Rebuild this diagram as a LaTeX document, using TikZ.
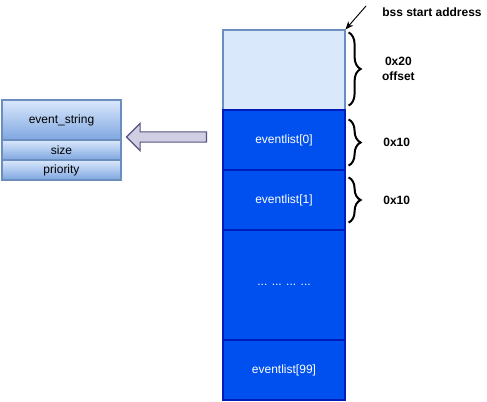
\documentclass[tikz,border=0pt]{standalone}
\usepackage{fontspec}
\setmainfont{Liberation Sans}
\usetikzlibrary{arrows.meta, positioning, calc, decorations.pathreplacing, shapes.arrows}

\definecolor{hdrfill}{HTML}{DAE8FC}
\definecolor{hdrline}{HTML}{6C8EBF}
\definecolor{slotfill}{HTML}{0050EF}
\definecolor{slotline}{HTML}{001DBC}
\definecolor{gradlow}{HTML}{7EA6E0}
\definecolor{arrfill}{HTML}{D0CEE2}
\definecolor{arrline}{HTML}{56517E}

\begin{document}
\begin{tikzpicture}[
    x=0.75pt, y=-0.75pt,
    font=\fontsize{9}{11}\selectfont,
    hdrbox/.style={
        draw=hdrline,
        fill=hdrfill,
        line width=0.9pt,
        inner sep=0pt,
        minimum width=91.5pt,
        minimum height=60pt
    },
    slot/.style={
        draw=slotline,
        fill=slotfill,
        line width=0.9pt,
        text=white,
        inner sep=0pt,
        minimum width=91.5pt,
        minimum height=45pt
    },
    field/.style={
        draw=hdrline,
        top color=hdrfill,
        bottom color=gradlow,
        line width=0.9pt,
        inner sep=0pt,
        minimum width=89.25pt
    },
    sizebrace/.style={
        decorate,
        decoration={brace,amplitude=9pt},
        line width=1.5pt
    },
    bracelbl/.style={
        font=\fontsize{9}{11}\selectfont\bfseries,
        align=center
    }
]
\useasboundingbox (0,0) rectangle (487,402);

% bss memory column
\node[hdrbox] (hdr) at (284,70) {};
\node[slot] (ev0) at (284,140) {eventlist[0]};
\node[slot] (ev1) at (284,200) {eventlist[1]};
\node[slot, minimum height=82.5pt] (evdots) at (284,285) {... ... ... ...};
\node[slot] (ev99) at (284,370) {eventlist[99]};

% struct layout
\node[field, minimum height=30pt] (estr) at (61.5,120) {event\_string};
\node[field, minimum height=15pt] (esize) at (61.5,150) {size};
\node[field, minimum height=15pt] (eprio) at (61.5,170) {priority};

% block arrow column -> struct
\node[single arrow, shape border rotate=180, draw=arrline, fill=arrfill,
      line width=0.9pt, inner xsep=0pt, inner ysep=3.4pt,
      minimum height=60pt, single arrow head extend=6.4pt]
      (blk) at (169,137) {};

% start address label
\node[bracelbl] (bss) at (432,12) {bss start address};
\coordinate (bsstail) at (366,6);
\draw[-{Stealth[length=6pt,width=5pt]}, line width=0.7pt] (bsstail) -- (hdr.north east);

% offsets
\draw[sizebrace] ($(hdr.north east)+(3,3)$) -- ($(hdr.south east)+(3,-5)$)
    node[midway, right=21pt, bracelbl] (off20) {0x20\\offset};
\draw[sizebrace] ($(ev0.north east)+(3,10)$) -- ($(ev0.south east)+(3,-5)$)
    node[midway, right=22pt, bracelbl] (off10a) {0x10};
\draw[sizebrace] ($(ev1.north east)+(3,8)$) -- ($(ev1.south east)+(3,-8)$)
    node[midway, right=22pt, bracelbl] (off10b) {0x10};

\end{tikzpicture}
\end{document}
